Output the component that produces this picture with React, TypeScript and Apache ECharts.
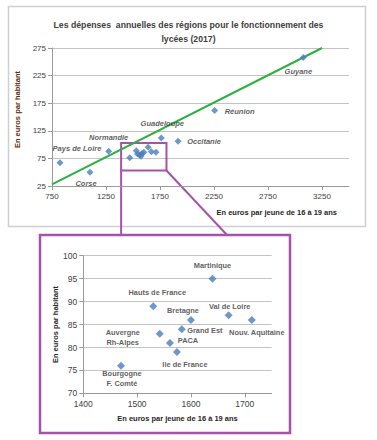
import React, { useEffect, useRef } from 'react';
import * as echarts from 'echarts';

const TITLE_LINES = ['Les dépenses  annuelles des régions pour le fonctionnement des', 'lycées (2017)'];
const Y_NAME = 'En euros par habitant';
const X_NAME = 'En euros par jeune de 16 à 19 ans';

const regions = [
  'Pays de Loire', 'Corse', 'Normandie', 'Guadeloupe', 'Occitanie', 'Réunion', 'Guyane',
  'Martinique', 'Hauts de France', 'Bretagne', 'Val de Loire', 'Nouv. Aquitaine',
  'Auvergne\nRh-Alpes', 'Grand Est', 'PACA', 'Ile de France', 'Bourgogne\nF. Comté',
];
const perYouth = [824, 1102, 1275, 1762, 1917, 2256, 3077, 1640, 1530, 1600, 1670, 1713, 1542, 1583, 1561, 1574, 1470];
const perInhabitant = [67, 50, 88, 112, 106, 162, 258, 95, 89, 86, 87, 86, 83, 84, 81, 79, 76];

// regions labelled on the main chart / on the zoomed inset
const mainLabelled = [0, 1, 2, 3, 4, 5, 6];
const insetPoints = [7, 8, 9, 10, 11, 12, 13, 14, 15, 16];

const trendX = [750, 3250];
const trendY = [28, 275];

const zoomX = [1390, 1810];
const zoomY = [53, 103];

const mainXTicks = { min: 750, max: 3500, interval: 500 };
const mainYTicks = { min: 25, max: 275, interval: 50 };
const insetXTicks = { min: 1400, max: 1750, interval: 100 };
const insetYTicks = { min: 70, max: 100, interval: 5 };

const FONT = 'Liberation Sans';
const PURPLE = '#a552ab';
const BLUE = '#4a7ebb';
const GREEN = '#2bb041';

// label offsets (px) relative to the point centre
const mainOffsets: Record<number, [number, number]> = {
  0: [17, -14], 1: [-4, 11], 2: [0, -14], 3: [1, -14], 4: [26, 0], 5: [25, 1], 6: [-5, 14],
};
const insetOffsets: Record<number, [number, number]> = {
  7: [0, -13], 8: [4, -14], 9: [-8, -9], 10: [1, -9], 11: [5, 13],
  12: [-37, 4], 13: [23, 1], 14: [18, -2], 15: [8, 12], 16: [1, 13],
};

export default function App() {
  const ref = useRef<HTMLDivElement>(null);
  useEffect(() => {
    if (!ref.current) return;
    const chart = echarts.init(ref.current, undefined, { renderer: 'svg' });

    const mainData = perYouth.map((x, i) => {
      const labelled = mainLabelled.includes(i);
      return {
        value: [x, perInhabitant[i]],
        name: regions[i],
        label: labelled
          ? {
              show: true, position: 'inside', offset: mainOffsets[i], formatter: '{b}',
              fontFamily: FONT, fontSize: 7.5, fontWeight: 'bold', fontStyle: 'italic', color: '#333',
            }
          : { show: false },
      };
    });
    const insetData = insetPoints.map((i) => ({
      value: [perYouth[i], perInhabitant[i]],
      name: regions[i],
      label: {
        show: true, position: 'inside', offset: insetOffsets[i], formatter: '{b}',
        fontFamily: FONT, fontSize: 7.4, fontWeight: 'bold', color: '#333', lineHeight: 10, align: 'center',
      },
    }));

    const fmt = (v: number) => String(v);
    const axisLabel = (size: number) => ({ fontFamily: FONT, fontSize: size, color: '#404040', margin: 6, formatter: fmt });
    const axisLine = { show: true, lineStyle: { color: '#9a9a9a', width: 1 } };
    const axisTick = { show: true, length: 4, lineStyle: { color: '#9a9a9a' } };
    const split = { show: true, lineStyle: { color: '#c4c4c4', width: 1.2 } };

    const baseGraphics: any[] = [
      { type: 'rect', shape: { x: 8.5, y: 6.5, width: 357, height: 220 }, style: { fill: 'none', stroke: '#cfcfcf', lineWidth: 1.5 }, silent: true },
      { type: 'rect', shape: { x: 40, y: 235, width: 250, height: 198 }, style: { fill: 'none', stroke: PURPLE, lineWidth: 2.5 }, silent: true },
    ];

    chart.setOption({
      animation: false,
      backgroundColor: '#fff',
      title: {
        text: TITLE_LINES.join('\n'), left: 'center', top: 13,
        textStyle: { fontFamily: FONT, fontSize: 8.7, fontWeight: 'bold', color: '#404040', lineHeight: 14 },
      },
      grid: [
        { left: 52, top: 48, width: 297, height: 138 },
        { left: 83.3, top: 255.7, width: 188.4, height: 137.7 },
      ],
      xAxis: [
        {
          gridIndex: 0, type: 'value', ...mainXTicks,
          axisLabel: { ...axisLabel(8), showMaxLabel: false }, axisLine, axisTick, splitLine: { show: false },
          name: X_NAME, nameLocation: 'end', nameGap: -12,
          nameTextStyle: { fontFamily: FONT, fontSize: 7.5, fontWeight: 'bold', color: '#262626', align: 'right', verticalAlign: 'top', padding: [22, 0, 0, 0] },
        },
        {
          gridIndex: 1, type: 'value', ...insetXTicks,
          axisLabel: { ...axisLabel(8.5), showMaxLabel: false }, axisLine, axisTick, splitLine: { show: false },
          name: X_NAME, nameLocation: 'middle', nameGap: 21,
          nameTextStyle: { fontFamily: FONT, fontSize: 7.5, fontWeight: 'bold', color: '#262626' },
        },
      ],
      yAxis: [
        {
          gridIndex: 0, type: 'value', ...mainYTicks,
          axisLabel: axisLabel(8), axisLine, axisTick, splitLine: split,
          name: Y_NAME, nameLocation: 'middle', nameGap: 28, nameRotate: 90,
          nameTextStyle: { fontFamily: FONT, fontSize: 7.5, fontWeight: 'bold', color: '#5a2d0c', padding: [0, 0, 0, 15] },
        },
        {
          gridIndex: 1, type: 'value', ...insetYTicks,
          axisLabel: axisLabel(8.5), axisLine, axisTick, splitLine: split,
          name: Y_NAME, nameLocation: 'middle', nameGap: 21, nameRotate: 90,
          nameTextStyle: { fontFamily: FONT, fontSize: 7.5, fontWeight: 'bold', color: '#262626' },
        },
      ],
      series: [
        {
          type: 'line', xAxisIndex: 0, yAxisIndex: 0, symbol: 'none', silent: true,
          data: trendX.map((x, i) => [x, trendY[i]]),
          lineStyle: { color: GREEN, width: 2 }, z: 1,
          markArea: {
            silent: true,
            itemStyle: { color: 'rgba(0,0,0,0)', borderColor: PURPLE, borderWidth: 2 },
            data: [[{ coord: [zoomX[0], zoomY[1]] }, { coord: [zoomX[1], zoomY[0]] }]],
          },
        },
        {
          type: 'scatter', xAxisIndex: 0, yAxisIndex: 0, symbol: 'diamond', symbolSize: 7,
          itemStyle: { color: BLUE }, data: mainData, z: 3,
        },
        {
          type: 'scatter', xAxisIndex: 1, yAxisIndex: 1, symbol: 'diamond', symbolSize: 8,
          itemStyle: { color: BLUE }, data: insetData, z: 3,
        },
      ],
      graphic: baseGraphics,
    });

    const bl = chart.convertToPixel({ xAxisIndex: 0, yAxisIndex: 0 } as any, [zoomX[0], zoomY[0]]) as number[];
    const br = chart.convertToPixel({ xAxisIndex: 0, yAxisIndex: 0 } as any, [zoomX[1], zoomY[0]]) as number[];
    chart.setOption({
      graphic: [
        ...baseGraphics,
        { type: 'line', shape: { x1: bl[0], y1: bl[1], x2: bl[0], y2: 235 }, style: { stroke: PURPLE, lineWidth: 2 }, silent: true },
        { type: 'line', shape: { x1: br[0], y1: br[1], x2: 227, y2: 235 }, style: { stroke: PURPLE, lineWidth: 2 }, silent: true },
      ],
    });

    return () => chart.dispose();
  }, []);
  return <div ref={ref} style={{ position: 'fixed', left: 0, top: 0, width: 377, height: 440 }} />;
}
